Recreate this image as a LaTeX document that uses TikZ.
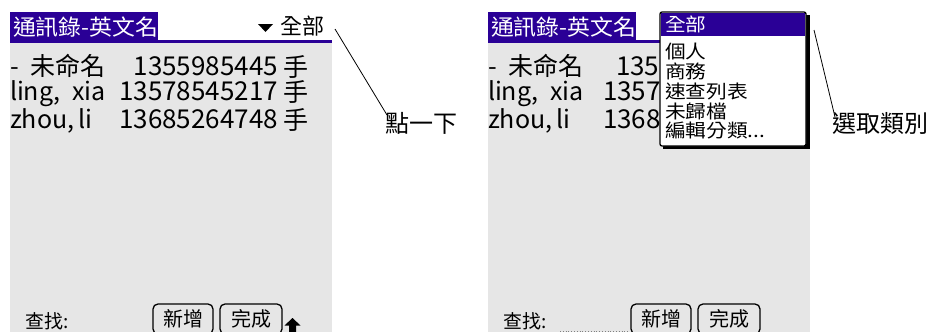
\documentclass[tikz,border=0pt]{standalone}
\usepackage{fontspec}
\setmainfont{Noto Sans CJK TC}
\definecolor{palmpurple}{RGB}{42,0,150}
\definecolor{screengray}{RGB}{230,230,230}
\begin{document}
\begin{tikzpicture}[x=1pt,y=-1pt,
  every node/.style={inner sep=0pt, outer sep=0pt},
  nametxt/.style={font=\fontsize{25}{25}\selectfont, anchor=base west},
  numtxt/.style={font=\fontsize{26}{26}\selectfont, anchor=base east},
  cutnum/.style={font=\fontsize{26}{26}\selectfont, anchor=base west},
  titletxt/.style={font=\fontsize{22}{22}\selectfont, text=white, anchor=west},
  menutxt/.style={font=\fontsize{18.5}{18.5}\selectfont, anchor=west},
  btn/.style={draw, line width=1.3pt, rounded corners=5pt, font=\fontsize{20}{20}\selectfont, minimum height=30pt, anchor=center},
  note/.style={font=\fontsize{24}{24}\selectfont, anchor=north west},
  leader/.style={line width=0.8pt}]
\useasboundingbox (0,0) rectangle (927,332);
\fill[white] (0,0) rectangle (927,332);

\begin{scope}
\clip (0,0) rectangle (927,332);
% screens
\foreach \s/\o in {L/0,R/478}{
  \fill[screengray] (10+\o,43) rectangle (332+\o,332);
  \fill[palmpurple] (10+\o,12) rectangle (158+\o,43);
  \node[titletxt] (title\s) at (13+\o,27) {\scalebox{1.04}[1]{通訊錄-英文名}};
  \node[nametxt] (na\s) at (10+\o,75) {-\hspace{12pt}未命名};
  \node[nametxt] (nb\s) at (10+\o,100) {ling,\hspace{12pt}xia};
  \node[nametxt] (nc\s) at (10+\o,128) {zhou,\hspace{4pt}li};
  \node[font=\fontsize{19}{19}\selectfont] (find\s) at (47+\o,321) {查找:};
  \node[btn, minimum width=60pt] (add\s) at (183+\o,319) {新增};
  \node[btn, minimum width=62pt] (done\s) at (251+\o,319) {完成};
}
% left screen numbers
\node[numtxt] (nuL) at (278,75) {1355985445};
\node[nametxt] (haL) at (283,76) {手};
\node[numtxt] (nvL) at (278,100) {13578545217};
\node[nametxt] (hbL) at (283,101) {手};
\node[numtxt] (nwL) at (278,128) {13685264748};
\node[nametxt] (hcL) at (283,129) {手};
% right screen numbers (cut by the menu)
\node[cutnum] (nuR) at (616,75) {135};
\node[cutnum] (nvR) at (603,100) {1357};
\node[cutnum] (nwR) at (603,128) {1368};

\fill[palmpurple] (10,40) rectangle (332,43);
\fill[palmpurple] (488,40) rectangle (660,43);

% left title selector
\fill (258,24) -- (273,24) -- (265.5,32) -- cycle;
\node[font=\fontsize{22}{22}\selectfont] (allL) at (302,26) {全部};

% up arrow
\fill (292.5,318) -- (300.5,325.5) -- (296,325.5) -- (296,333) -- (289,333) -- (289,325.5) -- (284.5,325.5) -- cycle;

% dotted field
\draw[dotted, gray, line width=0.8pt] (560,331) -- (628,331);

% popup
\fill[black] (663,15) rectangle (809.5,149);
\draw[fill=white, line width=1.3pt, rounded corners=2pt] (660,12) rectangle (806,146);
\fill[palmpurple] (661,13) rectangle (805,36);
\node[menutxt, text=white] (m0) at (665,24) {\scalebox{1.12}[1]{全部}};
\node[menutxt] (m1) at (665,52) {\scalebox{1.12}[1]{個人}};
\node[menutxt] (m2) at (665,71) {\scalebox{1.12}[1]{商務}};
\node[menutxt] (m3) at (665,91) {\scalebox{1.12}[1]{速查列表}};
\node[menutxt] (m4) at (665,111) {\scalebox{1.12}[1]{未歸檔}};
\node[menutxt] (m5) at (665,131) {\scalebox{1.12}[1]{編輯分類...}};
\end{scope}

% annotations
\node[note] (tap) at (385,112) {點一下};
\coordinate (tapfrom) at (335,29);
\draw[leader] (tapfrom) -- ([xshift=2pt,yshift=-3pt]tap.north west);
\node[note] (pick) at (832,112) {選取類別};
\coordinate (pickfrom) at (814,30);
\draw[leader] (pickfrom) -- ([xshift=3pt,yshift=-5pt]pick.north west);
\end{tikzpicture}
\end{document}
